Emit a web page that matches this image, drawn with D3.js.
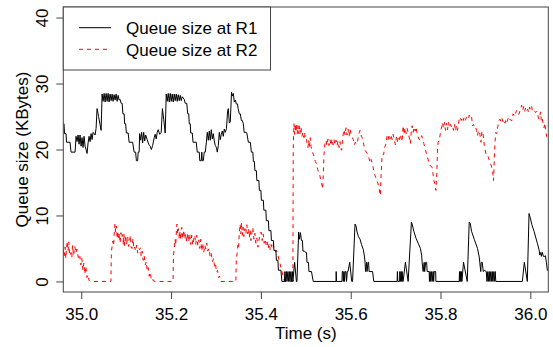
<!DOCTYPE html>
<html>
<head>
<meta charset="utf-8">
<script src="https://cdnjs.cloudflare.com/ajax/libs/d3/7.8.5/d3.min.js"></script>
<style>
  body { margin: 0; background: #fff; }
  text { font-family: "Liberation Sans", Arial, Helvetica, sans-serif; fill: #000; }
</style>
</head>
<body>
<script>
// queue size at router R1 (black, solid)
var r1Time = [34.9600,34.9616,34.9627,34.9661,34.9672,34.9750,34.9772,34.9862,34.9884,34.9906,34.9929,34.9951,34.9973,34.9996,
  35.0018,35.0040,35.0062,35.0085,35.0107,35.0129,35.0152,35.0174,35.0196,35.0219,35.0241,35.0263,35.0308,35.0330,35.0352,35.0386,
  35.0442,35.0464,35.0486,35.0509,35.0531,35.0553,35.0576,35.0598,35.0620,35.0642,35.0665,35.0687,35.0709,35.0732,35.0754,35.0776,
  35.0799,35.0821,35.0843,35.0865,35.0888,35.0910,35.0928,35.0955,35.0966,35.0988,35.1004,35.1044,35.1066,35.1144,35.1178,35.1211,
  35.1227,35.1256,35.1267,35.1289,35.1300,35.1323,35.1345,35.1367,35.1390,35.1412,35.1434,35.1468,35.1501,35.1535,35.1561,35.1590,
  35.1624,35.1646,35.1669,35.1691,35.1713,35.1747,35.1780,35.1807,35.1836,35.1869,35.1892,35.1914,35.1936,35.1959,35.1981,35.2003,
  35.2025,35.2048,35.2070,35.2092,35.2115,35.2137,35.2159,35.2182,35.2204,35.2226,35.2249,35.2293,35.2315,35.2349,35.2371,35.2394,
  35.2405,35.2427,35.2438,35.2472,35.2489,35.2561,35.2583,35.2628,35.2639,35.2672,35.2684,35.2695,35.2717,35.2739,35.2762,35.2784,
  35.2806,35.2829,35.2851,35.2873,35.2895,35.2918,35.2940,35.2962,35.2985,35.3011,35.3029,35.3052,35.3074,35.3096,35.3118,35.3141,
  35.3163,35.3185,35.3208,35.3234,35.3257,35.3275,35.3297,35.3319,35.3346,35.3364,35.3386,35.3408,35.3431,35.3453,35.3480,35.3493,
  35.3520,35.3542,35.3565,35.3587,35.3609,35.3627,35.3676,35.3687,35.3721,35.3765,35.3788,35.3821,35.3832,35.3855,35.3866,35.3899,
  35.3910,35.3955,35.3966,35.4000,35.4011,35.4055,35.4066,35.4111,35.4122,35.4167,35.4178,35.4223,35.4234,35.4278,35.4290,35.4334,
  35.4345,35.4379,35.4390,35.4446,35.4468,35.4524,35.4535,35.4546,35.4568,35.4580,35.4602,35.4613,35.4635,35.4646,35.4669,35.4680,
  35.4702,35.4713,35.4751,35.4791,35.4803,35.4841,35.4858,35.4881,35.4903,35.4925,35.4936,35.4970,35.4992,35.5015,35.5026,35.5059,
  35.5070,35.5126,35.5166,35.5673,35.5677,35.5684,35.5806,35.5813,35.5829,35.5835,35.5851,35.5862,35.5878,35.5896,35.5907,35.5925,
  35.5940,35.5978,35.6023,35.6041,35.6096,35.6119,35.6141,35.6174,35.6208,35.6241,35.6282,35.6308,35.6319,35.6331,35.6353,35.6364,
  35.6386,35.6398,35.6409,35.6487,35.6514,35.7033,35.7040,35.7049,35.7089,35.7094,35.7107,35.7122,35.7134,35.7145,35.7160,35.7167,
  35.7218,35.7279,35.7352,35.7368,35.7406,35.7457,35.7502,35.7553,35.7580,35.7591,35.7613,35.7636,35.7647,35.7669,35.7691,35.7702,
  35.7747,35.7754,35.7769,35.7781,35.7803,35.7814,35.7836,35.7847,35.7859,35.7892,35.7897,35.8416,35.8423,35.8432,35.8445,35.8454,
  35.8468,35.8476,35.8512,35.8595,35.8639,35.8662,35.8691,35.8751,35.8824,35.8862,35.8874,35.8896,35.8907,35.8929,35.8952,35.8974,
  35.9019,35.9034,35.9052,35.9063,35.9085,35.9097,35.9119,35.9130,35.9152,35.9164,35.9186,35.9197,35.9219,35.9230,35.9822,35.9866,
  35.9933,35.9971,36.0000,36.0034,36.0083,36.0123,36.0156,36.0194,36.0212,36.0234,36.0245,36.0268,36.0290,36.0323,36.0335,36.0357,
  36.0379,36.0400];
var r1Size = [24.0,23.9,22.4,22.4,21.1,21.1,19.6,19.6,22.0,21.2,22.2,20.8,22.2,20.5,
  21.8,20.3,22.0,20.5,20.0,19.4,21.0,22.0,21.2,22.4,21.5,22.6,22.2,23.2,26.2,25.0,
  22.9,28.4,27.3,28.5,27.2,28.5,27.3,28.5,27.2,28.4,27.4,28.4,27.3,28.3,27.5,28.4,
  27.3,28.2,27.5,27.6,27.0,27.0,25.4,25.4,23.9,23.9,22.5,22.5,21.1,21.1,19.6,19.6,
  18.3,18.3,19.6,19.6,22.4,21.4,22.6,21.0,22.6,21.3,22.2,21.5,20.8,20.5,20.0,20.6,
  21.8,22.3,21.6,22.6,23.0,22.3,22.6,26.2,24.6,22.5,28.4,27.3,28.5,27.2,28.5,27.3,
  28.4,27.2,28.4,27.4,28.4,27.3,28.3,27.4,28.2,27.4,28.0,27.6,27.0,27.0,25.4,25.4,
  23.9,23.9,22.5,22.5,21.1,21.1,19.6,19.6,18.3,18.3,19.6,18.3,18.3,19.6,19.6,21.0,
  22.6,21.4,22.8,21.4,23.0,21.6,22.4,21.3,20.6,20.3,19.6,20.6,22.6,21.5,22.3,22.8,
  22.0,23.1,22.6,23.2,25.7,26.2,24.0,24.2,28.7,28.1,28.5,27.2,27.5,26.9,26.9,26.2,
  25.4,25.4,24.4,24.4,23.9,22.6,22.6,22.5,21.1,21.1,19.6,19.6,18.2,18.2,16.8,16.8,
  15.3,15.3,13.8,13.8,12.3,12.3,10.8,10.8,9.2,9.2,7.7,7.7,6.2,6.2,4.7,4.7,
  3.2,3.2,1.7,1.7,0,0,1.5,0,1.5,0,1.5,0,1.5,0,1.5,0,
  1.5,0,2.9,0,0,7.5,6.4,7.4,6.2,6.2,4.6,4.6,4.4,4.4,2.9,2.9,
  1.5,1.5,0,0,1.5,0,0,1.5,1.5,0,1.5,0,1.5,1.5,0,1.5,
  1.5,2.9,0,0,8.7,8.4,7.5,6.8,6.4,5.6,4.8,3.7,2.9,1.5,2.9,1.5,
  2.9,2.9,1.5,1.5,0,0,1.5,0,0,1.5,0,1.5,0,1.5,0,0,
  2.9,0,9.0,8.7,7.6,6.5,5.8,5.0,3.9,2.9,1.5,2.9,1.5,2.9,2.9,1.5,
  1.5,0,1.5,0,1.5,0,1.5,0,1.5,1.5,0,0,1.5,0,1.5,0,
  1.5,0,2.9,0,9.0,8.8,7.6,6.4,5.0,3.7,2.9,1.5,2.9,2.9,1.5,1.7,
  1.5,0,1.5,0,1.5,0,1.5,0,1.5,0,1.5,0,1.5,0,0,2.9,
  0,10.3,9.6,8.6,7.6,6.6,5.8,4.8,4.0,4.4,3.8,4.4,3.8,3.8,3.9,2.9,
  1.7,1.7];

// queue size at router R2 (red, dashed)
var r2Time = [34.9600,34.9605,34.9621,34.9639,34.9656,34.9672,34.9688,34.9706,34.9723,34.9739,34.9757,34.9772,34.9790,34.9806,
  34.9828,34.9857,34.9880,34.9902,34.9924,34.9946,34.9969,34.9991,35.0013,35.0036,35.0058,35.0080,35.0103,35.0125,35.0152,35.0170,
  35.0196,35.0660,35.0671,35.0687,35.0703,35.0721,35.0736,35.0750,35.0765,35.0781,35.0799,35.0816,35.0832,35.0850,35.0865,35.0883,
  35.0899,35.0921,35.0937,35.0950,35.0966,35.0988,35.1010,35.1033,35.1055,35.1077,35.1093,35.1111,35.1129,35.1151,35.1173,35.1189,
  35.1211,35.1234,35.1256,35.1278,35.1300,35.1316,35.1334,35.1356,35.1379,35.1401,35.1428,35.1445,35.1468,35.1490,35.1512,35.1535,
  35.1557,35.1579,35.1602,35.1651,35.2043,35.2054,35.2070,35.2088,35.2104,35.2119,35.2132,35.2148,35.2164,35.2182,35.2199,35.2215,
  35.2237,35.2260,35.2282,35.2304,35.2327,35.2349,35.2371,35.2394,35.2416,35.2438,35.2460,35.2483,35.2505,35.2527,35.2550,35.2572,
  35.2594,35.2617,35.2639,35.2661,35.2684,35.2706,35.2728,35.2750,35.2773,35.2795,35.2817,35.2846,35.2869,35.2891,35.2922,35.2944,
  35.2967,35.2989,35.3011,35.3034,35.3056,35.3078,35.3107,35.3442,35.3453,35.3471,35.3487,35.3502,35.3520,35.3538,35.3553,35.3569,
  35.3587,35.3605,35.3620,35.3643,35.3665,35.3687,35.3710,35.3725,35.3743,35.3761,35.3777,35.3799,35.3821,35.3843,35.3866,35.3888,
  35.3910,35.3933,35.3955,35.3977,35.4006,35.4029,35.4051,35.4073,35.4096,35.4118,35.4140,35.4162,35.4185,35.4207,35.4229,35.4252,
  35.4274,35.4305,35.4328,35.4350,35.4379,35.4401,35.4423,35.4452,35.4475,35.4497,35.4528,35.4713,35.4720,35.4736,35.4751,35.4765,
  35.4780,35.4796,35.4809,35.4825,35.4841,35.4854,35.4870,35.4892,35.4914,35.4936,35.4959,35.4974,35.4992,35.5015,35.5032,35.5048,
  35.5064,35.5081,35.5099,35.5115,35.5137,35.5166,35.5189,35.5211,35.5242,35.5264,35.5287,35.5309,35.5331,35.5354,35.5376,35.5389,
  35.5405,35.5427,35.5450,35.5472,35.5494,35.5516,35.5539,35.5561,35.5583,35.5606,35.5628,35.5650,35.5673,35.5695,35.5717,35.5740,
  35.5762,35.5784,35.5800,35.5818,35.5835,35.5851,35.5873,35.5896,35.5918,35.5940,35.5963,35.5985,35.6007,35.6029,35.6058,35.6081,
  35.6103,35.6125,35.6148,35.6170,35.6192,35.6208,35.6230,35.6253,35.6282,35.6304,35.6326,35.6357,35.6380,35.6402,35.6431,35.6453,
  35.6476,35.6514,35.6543,35.6587,35.6621,35.6661,35.6676,35.6699,35.6732,35.6754,35.6788,35.6810,35.6833,35.6855,35.6877,35.6899,
  35.6922,35.6944,35.6966,35.6995,35.7018,35.7040,35.7062,35.7085,35.7107,35.7122,35.7145,35.7167,35.7189,35.7212,35.7234,35.7256,
  35.7294,35.7330,35.7346,35.7368,35.7390,35.7412,35.7435,35.7457,35.7479,35.7517,35.7553,35.7580,35.7629,35.7665,35.7702,35.7740,
  35.7776,35.7814,35.7852,35.7874,35.7897,35.7919,35.7932,35.7948,35.7970,35.8008,35.8026,35.8044,35.8066,35.8088,35.8111,35.8133,
  35.8155,35.8178,35.8200,35.8222,35.8245,35.8267,35.8289,35.8311,35.8334,35.8356,35.8378,35.8416,35.8439,35.8461,35.8483,35.8505,
  35.8528,35.8550,35.8579,35.8601,35.8624,35.8639,35.8662,35.8691,35.8713,35.8735,35.8758,35.8780,35.8802,35.8824,35.8847,35.8869,
  35.8900,35.8923,35.8945,35.8974,35.9012,35.9041,35.9085,35.9119,35.9159,35.9181,35.9197,35.9213,35.9230,35.9253,35.9275,35.9302,
  35.9324,35.9346,35.9369,35.9391,35.9413,35.9436,35.9458,35.9480,35.9503,35.9525,35.9547,35.9570,35.9592,35.9614,35.9636,35.9654,
  35.9672,35.9694,35.9717,35.9748,35.9766,35.9784,35.9806,35.9828,35.9851,35.9873,35.9895,35.9918,35.9940,35.9962,35.9984,36.0007,
  36.0029,36.0045,36.0074,36.0096,36.0118,36.0141,36.0156,36.0190,36.0212,36.0230,36.0245,36.0268,36.0290,36.0306,36.0323,36.0341,
  36.0364,36.0379,36.0400];
var r2Size = [4.2,4.7,3.9,5.2,3.5,5.0,6.1,4.6,6.0,4.2,3.9,4.4,3.6,5.5,
  3.9,5.3,4.3,4.9,4.0,3.3,3.8,2.5,3.5,1.7,2.8,1.1,2.3,0.6,1.0,0.2,
  0,0,4.5,5.3,6.1,5.4,7.6,8.7,7.5,8.4,6.5,7.6,6.3,7.3,5.8,7.4,
  6.6,7.1,5.5,7.2,5.4,7.0,5.6,6.8,5.3,6.1,7.0,5.2,5.0,6.5,4.9,5.2,
  4.6,5.5,4.3,5.0,4.8,5.1,3.8,4.6,3.2,3.9,2.5,3.0,1.6,2.1,0.8,1.4,
  0.4,0.6,0.1,0,0,4.0,5.0,6.4,5.5,7.8,8.7,7.2,8.0,6.4,7.6,6.3,
  8.2,6.5,7.8,6.4,7.2,6.0,7.4,6.0,7.2,5.6,7.0,5.5,6.5,7.0,5.6,7.0,
  5.5,6.3,5.0,6.4,4.6,5.8,4.4,5.5,4.9,5.8,4.6,5.0,3.8,4.3,3.0,3.5,
  2.3,2.7,1.4,1.7,0.6,0.8,0,0,3.5,4.2,5.5,5.0,7.4,8.7,7.2,8.9,
  7.0,8.2,6.8,8.0,7.2,8.6,7.2,8.0,6.7,7.8,6.2,7.4,8.2,6.4,7.3,5.8,
  6.6,5.2,6.2,7.0,7.5,6.2,7.2,5.8,6.4,5.4,6.0,5.0,5.8,4.8,5.6,5.0,
  5.6,4.9,4.5,4.7,4.0,3.3,2.8,1.9,1.4,0.8,0,0,20.0,23.9,22.3,23.9,
  22.6,23.9,22.4,23.6,22.4,23.6,22.4,23.4,22.0,22.6,21.8,22.6,21.5,21.6,20.8,20.3,
  21.4,20.3,21.8,20.5,19.8,19.3,18.8,18.2,17.8,17.0,16.5,16.2,15.4,14.8,14.0,16.0,
  19.3,20.9,21.4,20.6,21.6,20.6,21.5,20.6,21.6,20.7,21.5,20.7,21.4,20.6,21.3,20.3,
  21.2,20.0,19.9,21.5,22.4,23.0,22.2,23.3,22.2,23.1,22.0,23.1,22.3,21.9,21.5,20.7,
  21.1,20.8,21.0,22.0,22.6,22.9,22.2,21.8,21.1,20.2,19.8,19.5,19.2,18.8,18.0,18.5,
  18.0,16.8,16.0,15.3,14.5,13.0,16.0,19.2,19.2,20.3,20.9,22.1,21.5,22.3,21.6,22.2,
  21.5,22.3,21.6,20.7,21.9,21.2,22.0,21.5,22.3,21.7,21.2,23.6,22.3,23.3,22.4,23.2,
  22.1,20.9,22.5,23.6,22.6,23.4,22.8,23.4,22.4,21.6,21.4,22.1,20.9,19.9,19.1,18.0,
  17.5,17.3,15.3,14.8,13.8,16.5,19.9,21.1,21.4,22.9,23.5,24.1,23.2,24.1,22.9,24.0,
  23.0,24.1,23.3,23.8,23.4,23.6,22.9,23.8,22.8,23.6,22.9,24.6,24.9,24.4,24.9,24.4,
  24.9,24.4,24.9,24.9,24.6,25.2,24.8,25.0,23.6,23.8,23.3,23.4,22.9,22.1,22.9,22.7,
  21.1,22.8,22.5,20.6,19.3,19.3,18.4,17.8,16.8,15.3,18.5,21.1,22.6,22.4,23.5,24.4,
  24.6,24.2,24.7,24.2,24.5,24.0,24.6,24.2,24.7,24.3,24.6,24.4,24.4,25.4,25.2,25.7,
  25.5,25.9,25.3,25.4,25.8,26.2,26.7,25.9,26.5,25.8,26.3,25.8,26.1,25.6,26.4,26.0,
  26.5,25.9,26.1,25.8,25.6,25.8,25.4,24.6,25.2,25.7,24.2,24.6,23.6,23.3,24.0,22.8,
  22.0,21.4,21.4];

var xTicks = [35.0, 35.2, 35.4, 35.6, 35.8, 36.0],
    yTicks = [0, 10, 20, 30, 40],
    seriesNames = ["Queue size at R1", "Queue size at R2"],
    seriesColors = ["#000000", "#ff0000"],
    seriesDash = [null, "4,4"];

var width = 553,
    height = 347,
    plotLeft = 63.3,
    plotRight = 548.3,
    plotTop = 7,
    plotBottom = 292,
    fontSize = 17,
    axisColor = "#444";

var svg = d3.select("body").append("svg")
    .attr("width", width)
    .attr("height", height);

var x = d3.scaleLinear().domain([34.96, 36.04]).range([plotLeft, plotRight]),
    y = d3.scaleLinear().domain([-1.6, 41.6]).range([plotBottom, plotTop]);

// clip the traces to the plot box like base R does
svg.append("clipPath")
    .attr("id", "plotclip")
  .append("rect")
    .attr("x", plotLeft)
    .attr("y", plotTop)
    .attr("width", plotRight - plotLeft)
    .attr("height", plotBottom - plotTop);

var line = d3.line()
    .x(function(d) { return x(d[0]); })
    .y(function(d) { return y(d[1]); });

var series = [d3.zip(r1Time, r1Size), d3.zip(r2Time, r2Size)];

// draw R2 first so R1 sits on top where they cross
[1, 0].forEach(function(i) {
  svg.append("path")
      .datum(series[i])
      .attr("clip-path", "url(#plotclip)")
      .attr("fill", "none")
      .attr("stroke", seriesColors[i])
      .attr("stroke-width", 1)
      .attr("stroke-dasharray", seriesDash[i])
      .attr("d", line);
});

// x axis
var xAxis = svg.append("g")
    .attr("transform", "translate(0," + plotBottom + ")")
    .call(d3.axisBottom(x)
      .tickValues(xTicks)
      .tickFormat(d3.format(".1f"))
      .tickSize(7)
      .tickPadding(9));
xAxis.select(".domain").remove();
xAxis.selectAll("line").attr("stroke", axisColor);
xAxis.selectAll("text")
    .attr("font-size", fontSize)
    .attr("font-family", null)
    .style("fill", "#000");

// y axis, labels turned sideways as in R
var yAxis = svg.append("g")
    .attr("transform", "translate(" + plotLeft + ",0)")
    .call(d3.axisLeft(y)
      .tickValues(yTicks)
      .tickSize(7));
yAxis.select(".domain").remove();
yAxis.selectAll("line").attr("stroke", axisColor);
yAxis.selectAll("text")
    .attr("font-size", fontSize)
    .attr("font-family", null)
    .attr("x", 0)
    .attr("y", -15.8)
    .attr("dy", 0)
    .attr("transform", "rotate(-90)")
    .attr("text-anchor", "middle")
    .style("fill", "#000");

// plot frame
svg.append("rect")
    .attr("x", plotLeft)
    .attr("y", plotTop)
    .attr("width", plotRight - plotLeft)
    .attr("height", plotBottom - plotTop)
    .attr("fill", "none")
    .attr("stroke", axisColor);

// axis titles
svg.append("text")
    .attr("x", (plotLeft + plotRight) / 2)
    .attr("y", 338.5)
    .attr("text-anchor", "middle")
    .attr("font-size", fontSize)
    .text("Time (s)");

svg.append("text")
    .attr("transform", "translate(28," + ((plotTop + plotBottom) / 2) + ")rotate(-90)")
    .attr("text-anchor", "middle")
    .attr("font-size", fontSize)
    .text("Queue size (KBytes)");

// legend in the top left corner
var legend = svg.append("g");
legend.append("rect")
    .attr("x", plotLeft)
    .attr("y", plotTop)
    .attr("width", 270.5 - plotLeft)
    .attr("height", 70 - plotTop)
    .attr("fill", "#fff")
    .attr("stroke", axisColor);

seriesNames.forEach(function(name, i) {
  var ly = 27.7 + i * 21.6;
  legend.append("line")
      .attr("x1", 79)
      .attr("x2", 111)
      .attr("y1", ly)
      .attr("y2", ly)
      .attr("stroke", seriesColors[i])
      .attr("stroke-dasharray", seriesDash[i]);
  legend.append("text")
      .attr("x", 126)
      .attr("y", ly + 6.3)
      .attr("font-size", fontSize)
      .text(name);
});
</script>
</body>
</html>
